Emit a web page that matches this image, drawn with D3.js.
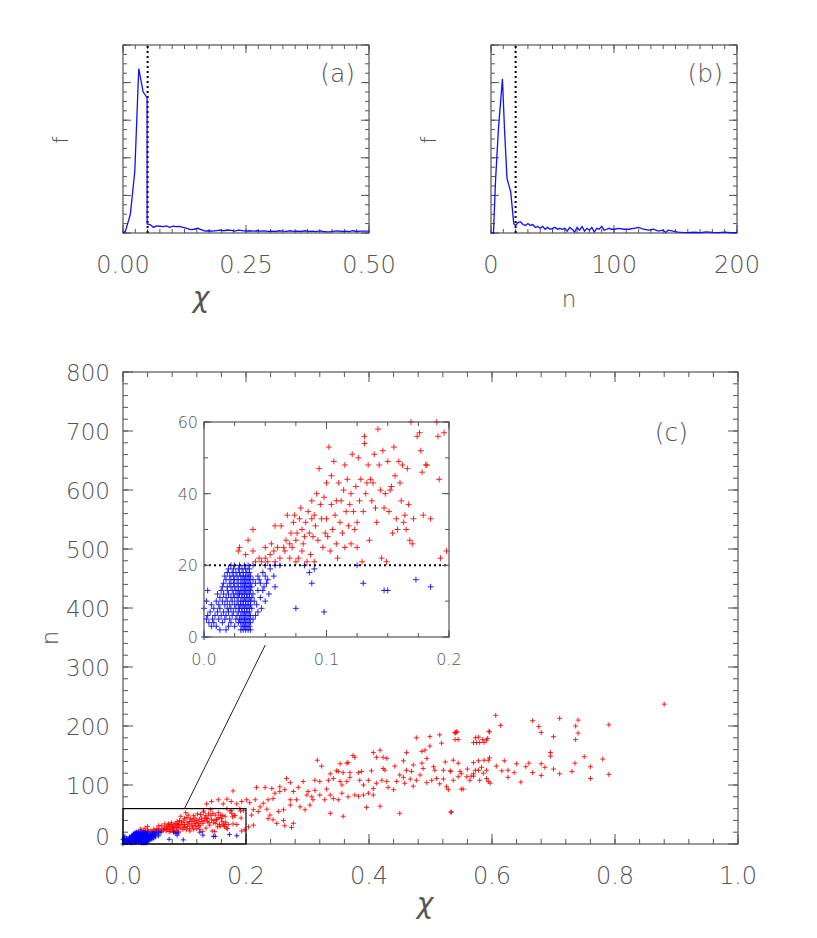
<!DOCTYPE html>
<html>
<head>
<meta charset="utf-8">
<script src="https://cdn.jsdelivr.net/npm/d3@7"></script>
<style>
  body { margin: 0; background: #fff; }
  text { font-family: "DejaVu Sans", "Liberation Sans", sans-serif; font-weight: 200; fill: #555; }
</style>
</head>
<body>
<svg id="fig" width="817" height="938"></svg>
<script>
// ---- data ----
// (a) distribution of chi
const aChi = [0,0.005,0.015,0.024,0.032,0.041,0.049,0.049,0.055,0.062,0.068,0.075,0.082,0.088,0.095,0.102,0.108,0.115,0.122,0.13,0.137,0.145,0.152,0.16,0.167,0.175,0.182,0.19,0.197,0.205,0.212,0.22,0.227,0.235,0.242,0.25,0.257,0.265,0.272,0.28,0.287,0.295,0.302,0.31,0.317,0.325,0.332,0.34,0.347,0.355,0.362,0.37,0.377,0.385,0.392,0.4,0.407,0.415,0.422,0.43,0.437,0.445,0.452,0.46,0.467,0.475,0.482,0.49,0.5];
const aF = [0,0.01,0.1,0.33,0.874,0.75,0.72,0.048,0.045,0.03,0.038,0.036,0.034,0.038,0.03,0.036,0.034,0.035,0.03,0.025,0.018,0.02,0.025,0.017,0.01,0.012,0.01,0.013,0.015,0.012,0.016,0.014,0.01,0.015,0.013,0.01,0.012,0.01,0.012,0.01,0.011,0.009,0.01,0.008,0.012,0.01,0.009,0.012,0.009,0.01,0.008,0.012,0.009,0.01,0.007,0.011,0.008,0.006,0.007,0.01,0.011,0.008,0.01,0.007,0.012,0.008,0.01,0.01,0.01];
// (b) distribution of n
const bN = [0,2,3.7,6,9.3,11,13,16,18.5,20,22,24,26,28,30,32,34,36,38,40,42,44,46,48,50,52,54,56,58,60,62,64,66,68,70,72,74,76,78,80,82,84,86,88,90,92,94,96,98,100,104,108,112,116,120,124,128,132,136,140,142,144,148,152,156,160,165,170,175,180,185,190,195,200];
const bF = [0,0,0.28,0.55,0.82,0.55,0.29,0.22,0.05,0.04,0.055,0.06,0.045,0.04,0.05,0.04,0.045,0.03,0.035,0.025,0.035,0.02,0.03,0.02,0.025,0.03,0.02,0.025,0.02,0.025,0.01,0.03,0.02,0.005,0.03,0.015,0.035,0.01,0.025,0.015,0.03,0.005,0.025,0.02,0.035,0.015,0.02,0.025,0.02,0.02,0.025,0.02,0.02,0.025,0.03,0.02,0.015,0.02,0.01,0.015,0.003,0.015,0.01,0.005,0.003,0.002,0.004,0.002,0.006,0.003,0.002,0.005,0.002,0.002];
const chiCut = 0.05;
const nCut = 20;

// (c) scatter: points above the n cut (red), [chi, n]
const redPts = [
[.028,24],[.029,25],[.034,23],[.036,27],[.04,30],[.04,24],[.042,21],[.045,22],[.047,21],[.05,22],[.05,25],[.052,21],[.054,23],[.055,26],[.057,24],[.058,21],[.058,31],[.06,25],[.062,22],[.063,31],[.065,25],[.066,24],[.067,27],[.068,34],[.07,22],[.07,26],[.071,29],[.072,25],[.073,32],[.074,34],[.075,21],[.075,27],[.076,29],[.077,22],[.078,33],[.079,36],[.08,30],[.08,24],[.081,26],[.082,28],[.083,32],[.084,21],[.085,35],[.086,29],[.087,23],[.088,33],[.088,38],[.089,28],[.09,34],[.09,21],[.091,31],[.092,40],[.093,27],[.094,47],[.095,37],[.096,33],[.097,25],[.098,39],[.099,29],[.1,33],[.1,43],[.101,28],[.102,53],[.103,24],[.104,45],[.104,37],[.105,30],[.106,49],[.107,34],[.108,38],[.108,26],[.109,22],[.11,43],[.111,32],[.112,38],[.113,29],[.114,41],[.115,48],[.115,25],[.116,35],[.117,44],[.118,31],[.119,37],[.12,26],[.12,40],[.121,51],[.122,35],[.123,30],[.124,42],[.125,25],[.125,32],[.126,50],[.127,38],[.128,44],[.129,21],[.13,35],[.131,54],[.131,56],[.132,40],[.133,43],[.134,48],[.135,27],[.136,44],[.137,38],[.138,43],[.139,51],[.14,36],[.141,32],[.142,58],[.143,48],[.144,41],[.145,22],[.146,52],[.147,36],[.148,40],[.149,21],[.15,49],[.151,35],[.152,41],[.153,42],[.154,29],[.155,53],[.156,45],[.157,33],[.158,30],[.159,49],[.16,43],[.161,38],[.162,48],[.163,32],[.164,34],[.165,30],[.166,47],[.167,37],[.168,27],[.169,60],[.17,26],[.171,33],[.174,56],[.176,57],[.177,52],[.178,46],[.179,34],[.181,48],[.182,48],[.185,33],[.19,60],[.191,56],[.192,44],[.193,22],[.196,57],[.198,24],
[.136,68],[.155,75],[.169,76],[.179,90],[.144,72],[.163,68],[.176,72],[.185,68],[.193,72],
[.543,190],[.540,189],[.545,177],[.515,185],[.518,171],[.499,182],[.499,166],[.477,180],[.578,181],[.580,172],[.596,190],[.591,176],[.570,172],[.486,157],[.491,159],[.461,155],[.407,155],[.418,159],[.412,147],[.423,147],[.429,145],[.316,142],[.323,132],[.374,150],[.377,147],[.364,137],[.366,138],[.353,136],[.347,124],[.337,119],[.350,123],[.358,121],[.369,121],[.383,121],[.388,123],[.404,124],[.423,128],[.426,125],[.442,132],[.456,141],[.461,125],[.469,123],[.472,134],[.486,137],[.488,128],[.494,145],[.505,131],[.507,125],[.524,139],[.537,142],[.545,137],[.521,125],[.532,124],[.548,123],[.559,114],[.570,119],[.578,125],[.591,125],[.594,142],[.586,120],[.594,106],
[.312,108],[.320,106],[.334,108],[.331,93],[.342,111],[.353,106],[.356,100],[.364,106],[.369,113],[.385,108],[.391,100],[.399,108],[.407,94],[.412,103],[.421,108],[.429,106],[.431,96],[.440,92],[.445,106],[.450,117],[.456,113],[.458,103],[.467,110],[.472,98],[.477,108],[.483,117],[.494,104],[.502,108],[.510,111],[.515,102],[.521,110],[.526,97],[.529,92],[.537,108],[.545,114],[.553,93],[.564,108],[.570,115],[.580,108],[.591,111],[.597,103],
[.266,111],[.255,97],[.263,92],[.272,104],[.277,89],[.285,96],[.293,106],[.299,83],[.301,89],[.307,80],[.312,91],[.320,83],[.328,75],[.337,83],[.342,77],[.350,75],[.356,86],[.366,80],[.377,83],[.383,81],[.391,83],[.399,86],[.407,83],[.418,64],[.396,62],[.358,47],[.337,52],[.450,52],[.534,54],
[.217,96],[.231,96],[.242,94],[.247,86],[.255,89],[.244,77],[.236,75],[.228,69],[.223,63],[.215,75],[.212,58],[.206,70],[.201,75],[.209,49],[.220,55],[.234,59],[.239,49],[.244,41],[.253,55],[.261,58],[.272,75],[.272,66],[.282,75],[.288,63],[.296,58],[.304,66],[.309,75],[.261,40],[.263,31],[.277,35],[.274,28],[.250,35],[.236,43],[.212,32],[.204,29],
[.88,237],[.79,202],[.79,118],[.78,144],[.75,148],[.76,111],[.76,131],[.74,210],[.736,200],[.74,188],[.736,177],[.735,137],[.73,123],[.71,213],[.70,182],[.70,127],[.71,119],[.695,149],[.695,155],[.68,189],[.676,199],[.666,209],[.686,130],[.68,136],[.68,116],[.666,121],[.66,137],[.655,131],[.647,105],[.64,136],[.636,121],[.626,113],[.626,125],[.62,141],[.616,124],[.607,132],[.606,218],[.614,201],[.595,191],[.585,177],[.587,172],[.573,180],[.575,172],[.593,179],[.596,146],[.587,142],[.578,141],[.583,130],[.57,138],[.573,125],[.566,115],[.56,127],[.55,119],[.55,93],[.543,190],[.54,188],[.54,177],[.533,123],[.533,54]
];
// (c) scatter: points at or below the n cut (blue), [chi, n]
const bluePts = [
[.013,2],[.018,2],[.03,2],[.032,2],[.034,2],[.036,2],[.038,2],
[.006,3],[.01,3],[.02,3],[.025,3],[.031,3],[.033,3],[.035,3],[.037,3],
[.004,4],[.008,4],[.015,4],[.022,4],[.028,4],[.03,4],[.032,4],[.034,4],[.036,4],[.038,4],
[.002,5],[.007,5],[.012,5],[.017,5],[.021,5],[.026,5],[.029,5],[.031,5],[.033,5],[.035,5],[.037,5],[.04,5],
[.003,6],[.009,6],[.014,6],[.018,6],[.023,6],[.027,6],[.03,6],[.032,6],[.034,6],[.036,6],[.038,6],[.042,6],
[.005,7],[.011,7],[.016,7],[.02,7],[.024,7],[.028,7],[.031,7],[.033,7],[.035,7],[.037,7],[.044,7],
[.0,8],[.008,8],[.013,8],[.019,8],[.022,8],[.026,8],[.029,8],[.031,8],[.033,8],[.035,8],[.037,8],[.039,8],[.047,8],
[.006,9],[.012,9],[.017,9],[.021,9],[.025,9],[.028,9],[.03,9],[.032,9],[.034,9],[.036,9],[.038,9],[.043,9],
[.002,10],[.01,10],[.015,10],[.019,10],[.023,10],[.027,10],[.03,10],[.032,10],[.034,10],[.036,10],[.038,10],[.041,10],[.05,10],
[.013,11],[.018,11],[.022,11],[.025,11],[.028,11],[.031,11],[.033,11],[.035,11],[.037,11],[.039,11],[.046,11],
[.011,12],[.016,12],[.02,12],[.024,12],[.027,12],[.029,12],[.031,12],[.033,12],[.035,12],[.037,12],[.04,12],[.053,12],
[.003,13],[.014,13],[.019,13],[.023,13],[.026,13],[.028,13],[.03,13],[.032,13],[.034,13],[.036,13],[.038,13],[.044,13],[.048,13],
[.015,14],[.019,14],[.022,14],[.025,14],[.028,14],[.031,14],[.033,14],[.035,14],[.037,14],[.039,14],[.049,14],[.058,14],
[.016,15],[.021,15],[.024,15],[.027,15],[.03,15],[.032,15],[.034,15],[.036,15],[.038,15],[.042,15],[.046,15],[.051,15],
[.018,16],[.022,16],[.025,16],[.028,16],[.031,16],[.033,16],[.035,16],[.037,16],[.04,16],[.045,16],[.052,16],
[.017,17],[.021,17],[.024,17],[.027,17],[.03,17],[.032,17],[.034,17],[.036,17],[.038,17],[.044,17],[.05,17],[.057,17],
[.019,18],[.023,18],[.026,18],[.029,18],[.032,18],[.035,18],[.037,18],[.048,18],
[.02,19],[.024,19],[.028,19],[.031,19],[.034,19],[.037,19],[.054,19],
[.022,20],[.025,20],[.029,20],[.033,20],[.036,20],[.04,20],[.05,20],[.058,20],[.062,20],
[.0,0],[.075,8],[.098,7],[.088,15],[.13,15],[.147,13],[.15,13],[.173,16],[.185,14],[.125,20],[.082,20],[.086,18],[.09,19]
];

const xTicksA = [0, 0.25, 0.5];
const xTicksB = [0, 100, 200];
const xTicksC = [0, 0.2, 0.4, 0.6, 0.8, 1.0];
const yTicksC = [0, 100, 200, 300, 400, 500, 600, 700, 800];
const xTicksInset = [0, 0.1, 0.2];
const yTicksInset = [0, 20, 40, 60];

const svg = d3.select('#fig');
const axisCol = '#555';

// frame with inward ticks on all four sides
function drawFrame(g, x, y, o) {
    const [x0, x1] = x.range();
    const [y0, y1] = y.range();
    g.append('rect')
        .attr('x', x0).attr('y', y1)
        .attr('width', x1 - x0).attr('height', y0 - y1)
        .attr('fill', 'none').attr('stroke', axisCol).attr('stroke-width', 1.2);
    const tk = (vals, len, isX) => {
        vals.forEach(v => {
            if (isX) {
                const px = x(v);
                g.append('line').attr('x1', px).attr('x2', px).attr('y1', y0).attr('y2', y0 - len)
                    .attr('stroke', axisCol);
                g.append('line').attr('x1', px).attr('x2', px).attr('y1', y1).attr('y2', y1 + len)
                    .attr('stroke', axisCol);
            } else {
                const py = y(v);
                g.append('line').attr('y1', py).attr('y2', py).attr('x1', x0).attr('x2', x0 + len)
                    .attr('stroke', axisCol);
                g.append('line').attr('y1', py).attr('y2', py).attr('x1', x1).attr('x2', x1 - len)
                    .attr('stroke', axisCol);
            }
        });
    };
    tk(o.xMinor, o.minLen, true);
    tk(o.xMajor, o.majLen, true);
    tk(o.yMinor, o.minLen, false);
    tk(o.yMajor, o.majLen, false);
}

function rangeStep(a, b, s) {
    return d3.range(a, b + s / 2, s);
}

// ---- panels (a) and (b) ----
function histPanel(left, xs, fs, xDomain, cut, ticks, fmt, xMinorStep, title, tag) {
    const x = d3.scaleLinear().domain(xDomain).range([left, left + 246]);
    const y = d3.scaleLinear().domain([0, 1]).range([233, 45]);
    const g = svg.append('g');
    drawFrame(g, x, y, {
        xMajor: ticks, xMinor: rangeStep(xDomain[0], xDomain[1], xMinorStep),
        yMajor: rangeStep(0, 1, 0.2), yMinor: rangeStep(0, 1, 0.05),
        majLen: 8, minLen: 4
    });
    g.append('line')
        .attr('x1', x(cut)).attr('x2', x(cut)).attr('y1', y(0)).attr('y2', y(1))
        .attr('stroke', '#000').attr('stroke-width', 2).attr('stroke-dasharray', '2,3');
    const line = d3.line().x(d => x(d[0])).y(d => y(d[1]));
    g.append('path')
        .datum(xs.map((v, i) => [v, fs[i]]))
        .attr('d', line)
        .attr('fill', 'none').attr('stroke', '#1010ff').attr('stroke-width', 1.3);
    ticks.forEach(t => {
        g.append('text').attr('x', x(t)).attr('y', 273)
            .attr('text-anchor', 'middle').style('font-size', '24px').text(fmt(t));
    });
    g.append('text').attr('x', left + 78).attr('y', 307)
        .attr('text-anchor', 'middle').style('font-size', title === 'χ' ? '28px' : '23px')
        .style('font-style', title === 'χ' ? 'italic' : 'normal').text(title);
    g.append('text').attr('transform', `translate(${left - 55},140) rotate(-90)`)
        .attr('text-anchor', 'middle').style('font-size', '21px').text('f');
    g.append('text').attr('x', left + 232).attr('y', 82)
        .attr('text-anchor', 'end').style('font-size', '25px').text(tag);
}
histPanel(123, aChi, aF, [0, 0.5], chiCut, xTicksA, d3.format('.2f'), 0.025, 'χ', '(a)');
histPanel(491, bN, bF, [0, 200], nCut, xTicksB, d3.format('d'), 10, 'n', '(b)');

// ---- panel (c) ----
const x = d3.scaleLinear().domain([0, 1]).range([123, 738]);
const y = d3.scaleLinear().domain([0, 800]).range([844, 372]);
const gc = svg.append('g');
drawFrame(gc, x, y, {
    xMajor: xTicksC, xMinor: rangeStep(0, 1, 0.04),
    yMajor: yTicksC, yMinor: rangeStep(0, 800, 20),
    majLen: 10, minLen: 5
});
xTicksC.forEach(t => {
    gc.append('text').attr('x', x(t)).attr('y', 884)
        .attr('text-anchor', 'middle').style('font-size', '24px').text(d3.format('.1f')(t));
});
yTicksC.forEach(t => {
    gc.append('text').attr('x', 110).attr('y', t === 0 ? 845 : y(t) + 9)
        .attr('text-anchor', 'end').style('font-size', '23px').text(t);
});
gc.append('text').attr('x', 425).attr('y', 913).attr('text-anchor', 'middle')
    .style('font-size', '28px').style('font-style', 'italic').text('χ');
gc.append('text').attr('transform', 'translate(58,638) rotate(-90)').attr('text-anchor', 'middle')
    .style('font-size', '23px').text('n');
gc.append('text').attr('x', 688).attr('y', 441).attr('text-anchor', 'end')
    .style('font-size', '25px').text('(c)');

function crosses(g, pts, sx, sy, col, sz) {
    g.selectAll(null).data(pts).enter().append('path')
        .attr('d', d => `M${sx(d[0]) - sz},${sy(d[1])}h${2 * sz}M${sx(d[0])},${sy(d[1]) - sz}v${2 * sz}`)
        .attr('stroke', col).attr('stroke-width', 1).attr('stroke-opacity', 0.85);
}
crosses(gc, redPts, x, y, '#ff0000', 2.5);
crosses(gc, bluePts, x, y, '#0000ff', 2.5);

// zoom box in main panel
gc.append('rect')
    .attr('x', x(0)).attr('y', y(60))
    .attr('width', x(0.2) - x(0)).attr('height', y(0) - y(60))
    .attr('fill', 'none').attr('stroke', '#000').attr('stroke-width', 1.2);

// ---- inset ----
const xi = d3.scaleLinear().domain([0, 0.2]).range([204, 449]);
const yi = d3.scaleLinear().domain([0, 60]).range([637, 422]);
gc.append('line')
    .attr('x1', x(0.1)).attr('y1', y(60)).attr('x2', xi(0.05)).attr('y2', 645)
    .attr('stroke', '#222').attr('stroke-width', 1);
const gi = svg.append('g');
gi.append('rect').attr('x', 204).attr('y', 422).attr('width', 245).attr('height', 215).attr('fill', '#fff');
const inBox = d => d[0] <= 0.2 && d[1] <= 60;
crosses(gi, redPts.filter(inBox), xi, yi, '#ff0000', 3);
crosses(gi, bluePts.filter(inBox), xi, yi, '#0000ff', 3);
gi.append('line')
    .attr('x1', xi(0)).attr('x2', xi(0.2)).attr('y1', yi(nCut)).attr('y2', yi(nCut))
    .attr('stroke', '#000').attr('stroke-width', 2).attr('stroke-dasharray', '2,3');
drawFrame(gi, xi, yi, {
    xMajor: xTicksInset, xMinor: rangeStep(0, 0.2, 0.025),
    yMajor: yTicksInset, yMinor: rangeStep(0, 60, 10),
    majLen: 7, minLen: 4
});
xTicksInset.forEach(t => {
    gi.append('text').attr('x', xi(t)).attr('y', 665)
        .attr('text-anchor', 'middle').style('font-size', '16px').text(d3.format('.1f')(t));
});
yTicksInset.forEach(t => {
    gi.append('text').attr('x', 198).attr('y', yi(t) + 6)
        .attr('text-anchor', 'end').style('font-size', '16px').text(t);
});
</script>
</body>
</html>
